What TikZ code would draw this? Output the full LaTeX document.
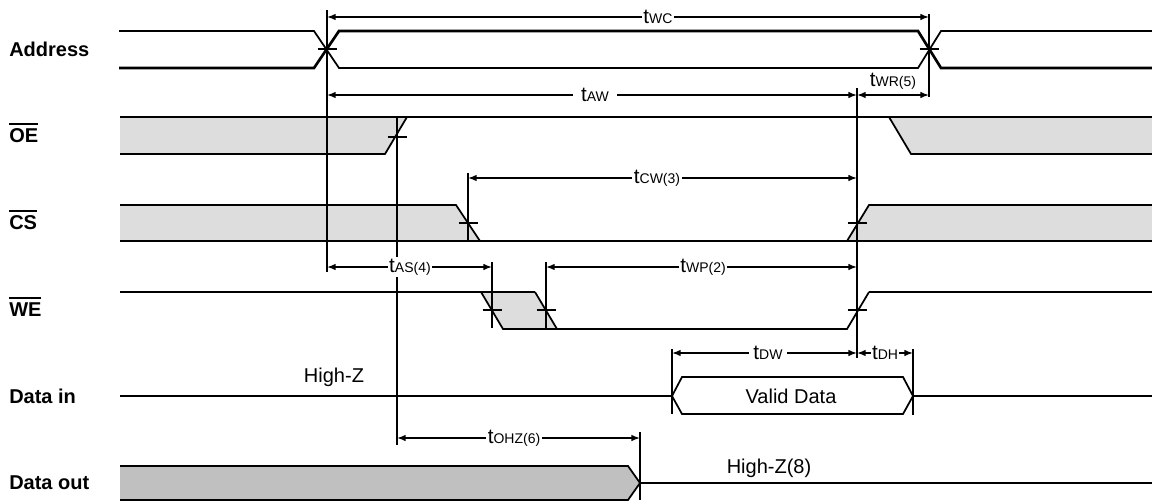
\documentclass[tikz,border=0pt]{standalone}
\usepackage{fontspec}
\setmainfont{Liberation Sans}
\usetikzlibrary{arrows.meta}
\newcommand{\tlab}[1]{{\fontsize{15.5}{18}\selectfont t}{\fontsize{10.5}{12}\selectfont #1}}
\newcommand{\ovlbox}[1]{\leavevmode\vbox{\hrule height 1.5pt \kern 3pt \hbox{#1}}}
\definecolor{lightg}{HTML}{DDDDDD}
\definecolor{darkg}{HTML}{C0C0C0}
\begin{document}
\begin{tikzpicture}[x=0.75pt,y=-0.75pt,
  sig/.style={line width=2pt, line join=miter},
  thin sig/.style={line width=1.3pt},
  vline/.style={line width=1.3pt},
  tickmark/.style={line width=1.3pt},
  dim/.style={line width=1.2pt, {Latex[length=6.5pt,width=5pt]}-{Latex[length=6.5pt,width=5pt]}},
  dimlab/.style={fill=white, inner sep=1.2pt, font=\fontsize{15}{18}\selectfont},
  signame/.style={anchor=west, font=\fontsize{15}{18}\selectfont\bfseries, inner sep=0pt},
  txt/.style={font=\fontsize{15}{18}\selectfont, inner sep=0pt}]
\useasboundingbox (0,0) rectangle (1152,503);

% signal names
\node[signame] (nAddr) at (9,49) {Address};
\node[signame] (nOE) at (9,133) {\ovlbox{OE}};
\node[signame] (nCS) at (9,220) {\ovlbox{CS}};
\node[signame] (nWE) at (9,307) {\ovlbox{WE}};
\node[signame] (nDin) at (9,396) {Data in};
\node[signame] (nDout) at (9,483) {Data out};

% Address
\draw[thin sig] (119,31) -- (314,31) -- (339,68) -- (918,68) -- (941,31) -- (1152,31);
\draw[sig] (119,68) -- (314,68) -- (339,31) -- (918,31) -- (941,68) -- (1152,68);

% OE
\fill[lightg] (120,117) -- (407,117) -- (385,154) -- (120,154) -- cycle;
\fill[lightg] (889,117) -- (1152,117) -- (1152,154) -- (911,154) -- cycle;
\draw[thin sig] (120,154) -- (385,154) -- (407,117);
\draw[thin sig] (889,117) -- (911,154) -- (1152,154);
\draw[sig] (120,117) -- (1152,117);

% CS
\fill[lightg] (120,205) -- (456,205) -- (480,241) -- (120,241) -- cycle;
\fill[lightg] (847,241) -- (869,205) -- (1152,205) -- (1152,241) -- cycle;
\draw[thin sig] (120,205) -- (456,205) -- (480,241);
\draw[thin sig] (847,241) -- (869,205) -- (1152,205);
\draw[sig] (120,241) -- (1152,241);

% WE
\fill[lightg] (481,292) -- (535,292) -- (557,329) -- (503,329) -- cycle;
\draw[sig] (120,292) -- (535,292);
\draw[thin sig] (535,292) -- (557,329);
\draw[thin sig] (481,292) -- (503,329) -- (847,329) -- (869,292);
\draw[sig] (869,292) -- (1152,292);

% Data in
\draw[sig] (120,396) -- (672,396);
\draw[sig] (913,396) -- (1152,396);
\draw[thin sig] (672,396) -- (682,377) -- (903,377) -- (913,396) -- (903,414) -- (682,414) -- cycle;
\node[txt] (valid) at (791,396) {Valid Data};
\node[txt] (hz1) at (334,377) {High-Z};

% Data out
\fill[darkg] (120,466) -- (628,466) -- (640,483) -- (628,500) -- (120,500) -- cycle;
\draw[thin sig] (120,466) -- (628,466) -- (640,483) -- (628,500) -- (120,500);
\draw[sig] (640,483) -- (1152,483);
\node[txt] (hz2) at (769,468) {High-Z(8)};

% reference coordinates
\coordinate (vA1) at (327,10);   \coordinate (vA2) at (327,272);
\coordinate (vB1) at (929,14);   \coordinate (vB2) at (929,97);
\coordinate (vC1) at (397,117);  \coordinate (vC2) at (397,445);
\coordinate (vD1) at (468,173);  \coordinate (vD2) at (468,241);
\coordinate (vE1) at (857,88);   \coordinate (vE2) at (857,358);
\coordinate (vF1) at (492,262);  \coordinate (vF2) at (492,328);
\coordinate (vG1) at (546,262);  \coordinate (vG2) at (546,328);
\coordinate (vH1) at (672,349);  \coordinate (vH2) at (672,414);
\coordinate (vI1) at (913,349);  \coordinate (vI2) at (913,415);
\coordinate (vJ1) at (640,432);  \coordinate (vJ2) at (640,500);

\foreach \a in {A,B,C,D,E,F,G,H,I,J}{\draw[vline] (v\a1) -- (v\a2);}

% tick marks
\foreach \px/\py in {327/49, 929/49, 397/137, 468/223, 857/223, 492/310, 546/310, 857/310}
  \draw[tickmark] (\px-9.5,\py) -- (\px+9.5,\py);

% dimension arrows
\coordinate (wcL) at (327,17);  \coordinate (wcR) at (929,17);
\draw[dim] (wcL) -- (wcR);
\node[dimlab] (lwc) at (658,17) {\tlab{WC}};

\coordinate (awL) at (327,95);  \coordinate (awR) at (857,95);
\draw[dim] (awL) -- (awR);
\node[dimlab, inner xsep=6pt] (law) at (595,95) {\tlab{AW}};

\coordinate (wrR) at (929,95);
\draw[dim] (awR) -- (wrR);
\node[txt] (lwr) at (893,81) {\tlab{WR(5)}};

\coordinate (cwL) at (468,178); \coordinate (cwR) at (857,178);
\draw[dim] (cwL) -- (cwR);
\node[dimlab] (lcw) at (657,178) {\tlab{CW(3)}};

\coordinate (asL) at (327,267); \coordinate (asR) at (492,267);
\draw[dim] (asL) -- (asR);
\node[dimlab] (las) at (410,267) {\tlab{AS(4)}};

\coordinate (wpL) at (546,267); \coordinate (wpR) at (857,267);
\draw[dim] (wpL) -- (wpR);
\node[dimlab] (lwp) at (703,267) {\tlab{WP(2)}};

\coordinate (dwL) at (672,353); \coordinate (dwR) at (857,353);
\draw[dim] (dwL) -- (dwR);
\node[dimlab, inner xsep=3pt] (ldw) at (768,353) {\tlab{DW}};

\coordinate (dhR) at (913,353);
\draw[dim] (dwR) -- (dhR);
\node[dimlab, inner sep=0.5pt] (ldh) at (885,353) {\tlab{DH}};

\coordinate (ohL) at (397,438); \coordinate (ohR) at (640,438);
\draw[dim] (ohL) -- (ohR);
\node[dimlab] (loh) at (514,438) {\tlab{OHZ(6)}};
\end{tikzpicture}
\end{document}
